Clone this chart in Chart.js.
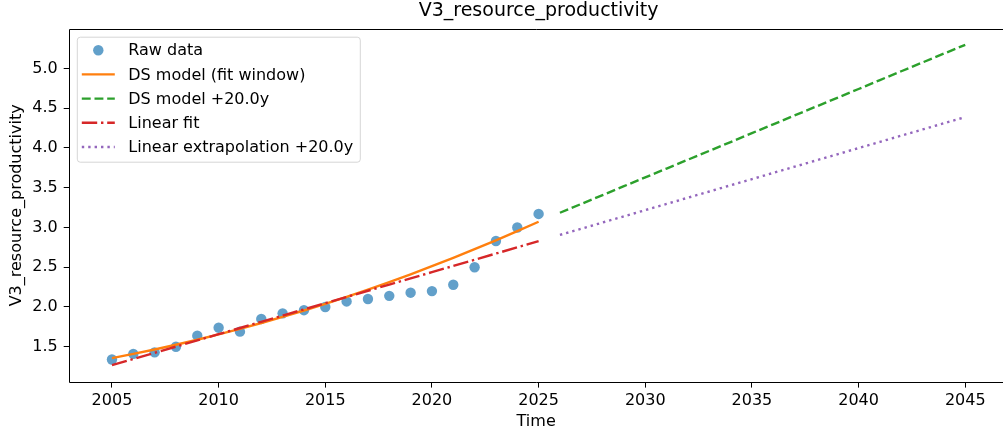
<!DOCTYPE html>
<html><head><meta charset="utf-8">
<script src="https://cdn.jsdelivr.net/npm/chart.js@4/dist/chart.umd.min.js"></script>
<style>html,body{margin:0;padding:0;overflow:hidden;background:#fff}#c{display:block}</style>
</head><body><canvas id="c" width="1003" height="435" style="width:1003px;height:435px"></canvas>
<script>
const chartTitle = 'V3_resource_productivity';
const xAxisLabel = 'Time';
const yAxisLabel = 'V3_resource_productivity';

const years = [2005,2006,2007,2008,2009,2010,2011,2012,2013,2014,2015,2016,2017,2018,2019,2020,2021,2022,2023,2024,2025];
const rawValues = [1.34,1.41,1.43,1.50,1.64,1.74,1.69,1.85,1.92,1.96,2.00,2.07,2.10,2.14,2.18,2.20,2.28,2.50,2.83,3.00,3.17];
const dsFitValues = [1.357,1.410,1.466,1.525,1.588,1.655,1.725,1.799,1.875,1.956,2.040,2.127,2.219,2.313,2.411,2.513,2.618,2.727,2.838,2.954,3.072];
const linearFitValues = [1.268,1.346,1.424,1.502,1.580,1.658,1.736,1.814,1.892,1.970,2.048,2.126,2.204,2.282,2.360,2.438,2.516,2.594,2.672,2.750,2.828];

const futureYears = [2026,2027,2028,2029,2030,2031,2032,2033,2034,2035,2036,2037,2038,2039,2040,2041,2042,2043,2044,2045];
const dsFutureValues = [3.185,3.296,3.407,3.519,3.630,3.741,3.852,3.963,4.074,4.186,4.297,4.408,4.519,4.630,4.741,4.853,4.964,5.075,5.186,5.297];
const linearFutureValues = [2.906,2.984,3.062,3.140,3.218,3.296,3.374,3.452,3.530,3.608,3.686,3.764,3.842,3.920,3.998,4.076,4.154,4.232,4.310,4.388];

const xTickValues = [2005,2010,2015,2020,2025,2030,2035,2040,2045];
const yTickValues = [1.5,2.0,2.5,3.0,3.5,4.0,4.5,5.0];
const yTickLabels = ['1.5','2.0','2.5','3.0','3.5','4.0','4.5','5.0'];

const seriesLabels = ['Raw data','DS model (fit window)','DS model +20.0y','Linear fit','Linear extrapolation +20.0y'];

// Full axes range is 2003..2047, but the picture is cropped at the right edge.
const X_FULL_MIN = 2003, X_FULL_MAX = 2047, X_VISIBLE_MAX = 2046.77;

const FONT = 'DejaVu Sans';
const pts = (xs, ys) => xs.map((x, i) => ({x: x, y: ys[i]}));

const frameAndText = {
  id: 'frameAndText',
  afterDatasetsDraw(chart) {
    const {ctx, chartArea: a} = chart;
    const L = Math.round(a.left) + 0.5, T = Math.round(a.top) + 0.5, B = Math.round(a.bottom) + 0.5;
    const R = Math.round(chart.scales.x.getPixelForValue(X_FULL_MAX)) + 0.5;
    ctx.save();
    ctx.strokeStyle = '#000';
    ctx.lineWidth = 1;
    ctx.beginPath();
    ctx.moveTo(R, T); ctx.lineTo(L, T); ctx.lineTo(L, B); ctx.lineTo(R, B); ctx.lineTo(R, T);
    ctx.stroke();
    ctx.fillStyle = '#000';
    ctx.font = '19px "' + FONT + '"';
    ctx.textAlign = 'center';
    ctx.textBaseline = 'alphabetic';
    ctx.fillText(chartTitle, chart.scales.x.getPixelForValue((X_FULL_MIN + X_FULL_MAX) / 2), 15.5);
    ctx.restore();
  },
  afterDraw(chart) {
    const {ctx, chartArea: a} = chart;
    const ds = chart.data.datasets;
    const bx = a.left + 7.5, by = a.top + 8, bw = 283, bh = 125;
    ctx.save();
    ctx.beginPath();
    if (ctx.roundRect) ctx.roundRect(bx + 0.5, by + 0.5, bw, bh, 3); else ctx.rect(bx + 0.5, by + 0.5, bw, bh);
    ctx.fillStyle = 'rgba(255,255,255,0.8)';
    ctx.fill();
    ctx.strokeStyle = 'rgba(204,204,204,0.8)';
    ctx.lineWidth = 1;
    ctx.stroke();
    ctx.font = '16px "' + FONT + '"';
    ctx.textAlign = 'left';
    ctx.textBaseline = 'middle';
    for (let i = 0; i < ds.length; i++) {
      const d = ds[i];
      const cy = by + 13.5 + i * 24.2;
      const hx0 = bx + 5, hx1 = bx + 38;
      if (d.showLine === false) {
        ctx.beginPath();
        ctx.arc((hx0 + hx1) / 2, cy, d.pointRadius, 0, Math.PI * 2);
        ctx.fillStyle = d.backgroundColor;
        ctx.fill();
      } else {
        ctx.beginPath();
        ctx.setLineDash(d.borderDash || []);
        ctx.strokeStyle = d.borderColor;
        ctx.lineWidth = d.borderWidth;
        ctx.moveTo(hx0, cy);
        ctx.lineTo(hx1, cy);
        ctx.stroke();
        ctx.setLineDash([]);
      }
      ctx.fillStyle = '#000';
      ctx.fillText(d.label, bx + 51.5, cy + 1);
    }
    ctx.restore();
  }
};

new Chart(document.getElementById('c'), {
  type: 'scatter',
  data: {
    datasets: [
      {label: seriesLabels[0], data: pts(years, rawValues), showLine: false, pointRadius: 5.2, pointHoverRadius: 5.2, backgroundColor: 'rgba(31,119,180,0.7)', borderWidth: 0, pointBorderWidth: 0, order: 5},
      {label: seriesLabels[1], data: pts(years, dsFitValues), showLine: true, pointRadius: 0, borderColor: '#ff7f0e', backgroundColor: '#ff7f0e', borderWidth: 2.4, order: 4},
      {label: seriesLabels[2], data: pts(futureYears, dsFutureValues), showLine: true, pointRadius: 0, borderColor: '#2ca02c', backgroundColor: '#2ca02c', borderWidth: 2.4, borderDash: [8.9, 3.8], order: 3},
      {label: seriesLabels[3], data: pts(years, linearFitValues), showLine: true, pointRadius: 0, borderColor: '#d62728', backgroundColor: '#d62728', borderWidth: 2.4, borderDash: [15.4, 3.8, 2.4, 3.8], order: 2},
      {label: seriesLabels[4], data: pts(futureYears, linearFutureValues), showLine: true, pointRadius: 0, borderColor: '#9467bd', backgroundColor: '#9467bd', borderWidth: 2.4, borderDash: [2.4, 4.0], order: 1}
    ]
  },
  options: {
    responsive: false,
    maintainAspectRatio: false,
    devicePixelRatio: 1,
    animation: false,
    events: [],
    layout: {autoPadding: false, padding: {top: 28.7, right: 0, bottom: 0, left: 0}},
    plugins: {legend: {display: false}, title: {display: false}, tooltip: {enabled: false}},
    scales: {
      x: {
        type: 'linear', min: X_FULL_MIN, max: X_VISIBLE_MAX,
        afterBuildTicks: s => { s.ticks = xTickValues.map(v => ({value: v})); },
        afterFit: s => { s.height = 53; s.paddingLeft = 0; s.paddingRight = 0; },
        grid: {display: true, drawOnChartArea: false, drawTicks: true, tickLength: 5.6, tickWidth: 1, tickColor: '#000'},
        border: {display: false},
        ticks: {autoSkip: false, maxRotation: 0, padding: 3.3, color: '#000', font: {family: FONT, size: 16}, callback: v => String(v)},
        title: {display: true, text: xAxisLabel, color: '#000', font: {family: FONT, size: 16}, padding: {top: 0, bottom: 3.9}}
      },
      y: {
        type: 'linear', min: 1.057, max: 5.499,
        afterBuildTicks: s => { s.ticks = yTickValues.map(v => ({value: v})); },
        afterFit: s => { s.width = 69.3; s.paddingTop = 0; s.paddingBottom = 0; },
        grid: {display: true, drawOnChartArea: false, drawTicks: true, tickLength: 5.6, tickWidth: 1, tickColor: '#000'},
        border: {display: false},
        ticks: {autoSkip: false, padding: 6, color: '#000', font: {family: FONT, size: 16}, callback: (v) => yTickLabels[yTickValues.indexOf(v)] ?? String(v)},
        title: {display: true, text: yAxisLabel, color: '#000', font: {family: FONT, size: 16}, padding: {top: 7.4, bottom: 0}}
      }
    }
  },
  plugins: [frameAndText]
});
</script>
</body></html>
